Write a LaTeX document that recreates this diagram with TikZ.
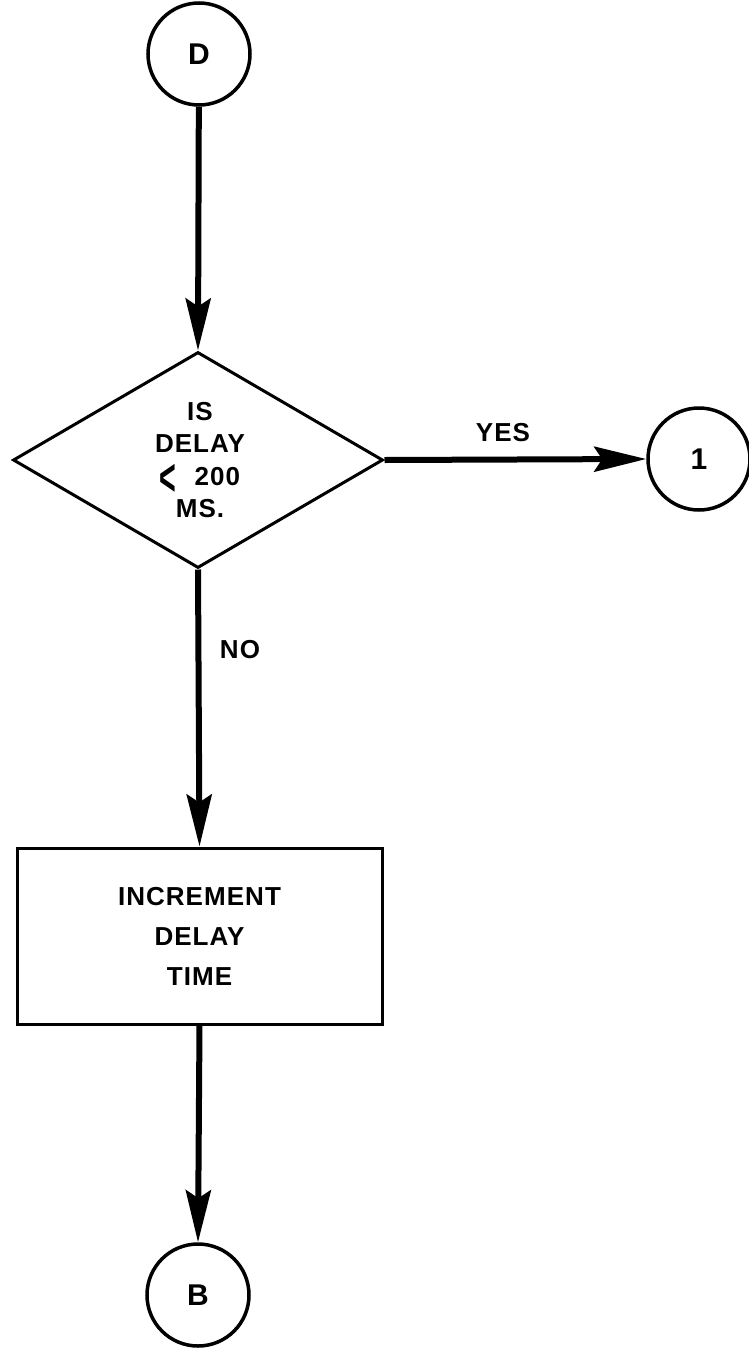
\documentclass[tikz,border=0pt]{standalone}
\usepackage{fontspec}
\setmainfont{Liberation Sans}[LetterSpace=4]
\usetikzlibrary{shapes.geometric,arrows.meta}
\tikzset{
  conn/.style={draw, circle, line width=3.5pt, minimum size=102pt, inner sep=0pt,
               font=\fontsize{30}{30}\selectfont\bfseries},
  decbox/.style={draw, diamond, line width=3pt, minimum width=370pt, minimum height=216pt, inner sep=0pt},
  procbox/.style={draw, rectangle, line width=3pt, minimum width=365pt, minimum height=176pt,
                  align=center, font=\fontsize{26}{40}\selectfont\bfseries},
  lbl/.style={font=\fontsize{26}{26}\selectfont\bfseries, inner sep=0pt},
  flow/.style={line width=6pt, -{Stealth[length=52pt,width=25pt,inset=8pt]}}
}
\begin{document}
\begin{tikzpicture}[x=1pt,y=-1pt]
  \useasboundingbox (0,0) rectangle (748,1355);
  % nodes of the chart
  \node[conn] (D) at (199,54) {D};
  \node[decbox] (dec) at (198,460) {};
  \node[lbl, align=center, font=\fontsize{26}{32}\selectfont\bfseries] (dtext) at (200,460)
    {IS\\DELAY\\[1pt]\raisebox{-10pt}[16pt][0pt]{\scalebox{1.1}[2.0]{<}}\hspace{18pt}200\\MS.};
  \node[conn] (one) at (699,459) {1};
  \node[procbox] (box) at (199.5,936) {INCREMENT\\DELAY\\TIME};
  \node[conn] (B) at (198,1295) {B};
  % labels on the branches
  \node[lbl] (yes) at (503,433) {YES};
  \node[lbl] (no) at (240,650) {NO};
  % connectors
  \draw[flow] (D) -- (dec.north);
  \draw[flow] (dec.east) -- (one.west);
  \draw[flow] (dec.south) -- (box.north);
  \draw[flow] (box.south) -- (B.north);
\end{tikzpicture}
\end{document}
